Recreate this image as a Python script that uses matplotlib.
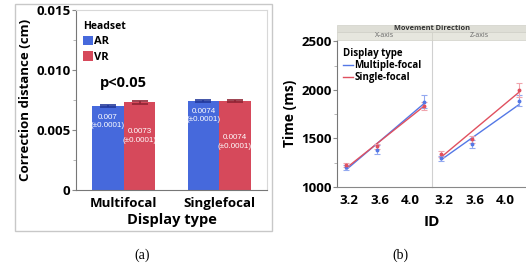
import matplotlib.pyplot as plt
from matplotlib.patches import Rectangle
from matplotlib.lines import Line2D
from matplotlib.ticker import MultipleLocator

plt.rcParams['font.family'] = ['Open Sans', 'DejaVu Sans']

# (a) bar chart data
display_types = ['Multifocal', 'Singlefocal']
ar_means = [0.0070, 0.0074]
vr_means = [0.0073, 0.0074]
ar_err = [0.0001, 0.0001]
vr_err = [0.0001, 0.0001]
ar_labels = ['0.007\n(±0.0001)', '0.0074\n(±0.0001)']
vr_labels = ['0.0073\n(±0.0001)', '0.0074\n(±0.0001)']

# (b) time vs ID, two panels
ids = [3.16, 3.56, 4.17]
x_multi = [1205, 1384, 1880]
x_multi_err = [25, 45, 65]
x_single = [1226, 1418, 1836]
x_single_err = [25, 30, 45]
z_multi = [1298, 1442, 1890]
z_multi_err = [25, 45, 60]
z_single = [1342, 1493, 2000]
z_single_err = [30, 35, 68]
# regression line end values
fit_ids = [3.16, 4.17]
x_multi_fit = [1178, 1856]
x_single_fit = [1195, 1829]
z_multi_fit = [1281, 1846]
z_single_fit = [1308, 1973]

W, H = 526, 268
fig = plt.figure(figsize=(W / 100, H / 100), dpi=100)

def fx(px):
    return px / W

def fy(py):
    return 1 - py / H

blue = '#4669DC'
red = '#D6495B'

# outer frame of panel (a)
fig.patches.append(Rectangle((fx(15), fy(231)), fx(272 - 15), (231 - 4) / H,
                             transform=fig.transFigure, fill=False,
                             edgecolor='#C8C8C8', lw=1))

ax = fig.add_axes([fx(76), fy(190), fx(267 - 76), (190 - 10) / H])
pos = range(len(display_types))
w = 0.33
ax.bar([p - w / 2 for p in pos], ar_means, w, color=blue, label='AR')
ax.bar([p + w / 2 for p in pos], vr_means, w, color=red, label='VR')
ax.errorbar([p - w / 2 for p in pos], ar_means, yerr=ar_err, fmt='none',
            ecolor='#23389A', capsize=5.5, elinewidth=1.2, capthick=1.2)
ax.errorbar([p + w / 2 for p in pos], vr_means, yerr=vr_err, fmt='none',
            ecolor='#8E2434', capsize=5.5, elinewidth=1.2, capthick=1.2)

ar_text_y = [0.0057, 0.0062]
vr_text_y = [0.0045, 0.0040]
for i, p in enumerate(pos):
    ax.text(p - w / 2, ar_text_y[i], ar_labels[i], ha='center', va='center',
            color='white', fontsize=5.8, family=['Liberation Sans'], linespacing=1.3)
    ax.text(p + w / 2, vr_text_y[i], vr_labels[i], ha='center', va='center',
            color='white', fontsize=5.8, family=['Liberation Sans'], linespacing=1.3)
ax.text(0, 0.0089, 'p<0.05', ha='center', va='center', fontsize=10.5, fontweight='bold')

ax.set_xlim(-0.5, 1.5)
ax.set_ylim(0, 0.015)
ax.set_xticks(list(pos))
ax.set_xticklabels(display_types, fontsize=9.5, fontweight='bold')
ax.set_yticks([0, 0.005, 0.010, 0.015])
ax.set_yticklabels(['0', '0.005', '0.010', '0.015'], fontsize=9.5, fontweight='bold')
ax.yaxis.set_minor_locator(MultipleLocator(0.0025))
ax.tick_params(axis='x', length=0, pad=5)
ax.tick_params(axis='y', which='major', length=3, color='#888888', pad=1)
ax.tick_params(axis='y', which='minor', length=2, color='#AAAAAA')
ax.set_xlabel('Display type', fontsize=10.5, fontweight='bold', labelpad=2)
ax.set_ylabel('Correction distance (cm)', fontsize=9.5, fontweight='bold', labelpad=3)
for s in ['top', 'right']:
    ax.spines[s].set_color('#D8D8D8')
for s in ['left', 'bottom']:
    ax.spines[s].set_color('#777777')

leg = ax.legend(loc='upper left', bbox_to_anchor=(0.0, 0.975), title='Headset',
                frameon=False, handlelength=0.9, handleheight=0.9, handletextpad=0.1,
                labelspacing=0.35, borderaxespad=0.2,
                prop={'size': 8, 'weight': 'bold'})
leg.get_title().set_fontweight('bold')
leg.get_title().set_fontsize(7.5)
leg._legend_box.align = 'left'

# (b) two panels
line_blue = '#5478E6'
line_red = '#E0505F'
err_blue = '#93A9F0'
err_red = '#F0A4AD'

panels = [
    (337, 'X-axis', x_multi, x_multi_err, x_single, x_single_err, x_multi_fit, x_single_fit),
    (432, 'Z-axis', z_multi, z_multi_err, z_single, z_single_err, z_multi_fit, z_single_fit),
]
axes_b = []
for left, name, m, me, s, se, mf, sf in panels:
    a = fig.add_axes([fx(left), fy(187), fx(95), (187 - 40) / H])
    a.errorbar(ids, m, yerr=me, fmt='o', ms=1.8, color=line_blue, ecolor=err_blue,
               capsize=2.5, elinewidth=0.8, capthick=0.8, zorder=3)
    a.errorbar(ids, s, yerr=se, fmt='o', ms=1.8, color=line_red, ecolor=err_red,
               capsize=2.5, elinewidth=0.8, capthick=0.8, zorder=3)
    a.plot(fit_ids, mf, color=line_blue, lw=1.0, label='Multiple-focal')
    a.plot(fit_ids, sf, color=line_red, lw=1.0, label='Single-focal')
    a.set_xlim(3.04, 4.28)
    a.set_ylim(1000, 2515)
    a.set_xticks([3.2, 3.6, 4.0])
    a.set_xticklabels(['3.2', '3.6', '4.0'], fontsize=9.5, fontweight='bold')
    a.tick_params(axis='x', length=0, pad=5)
    for sp in ['top', 'right']:
        a.spines[sp].set_visible(False)
    a.spines['bottom'].set_color('#888888')
    a.spines['left'].set_color('#AAAAAA')
    axes_b.append(a)

    # header cell for the panel
    fig.patches.append(Rectangle((fx(left), fy(40)), fx(95), 8 / H,
                                 transform=fig.transFigure, facecolor='#E6E6DE',
                                 edgecolor='#D0D0C8', lw=0.5))
    fig.text(fx(left + 47.5), fy(36), name, ha='center', va='center',
             fontsize=5, color='#666666')

fig.patches.append(Rectangle((fx(337), fy(32)), fx(190), 7 / H,
                             transform=fig.transFigure, facecolor='#DEDED6',
                             edgecolor='#D0D0C8', lw=0.5))
fig.text(fx(432), fy(28.5), 'Movement Direction', ha='center', va='center',
         fontsize=5.3, fontweight='bold', color='#333333')

a1, a2 = axes_b
a1.set_yticks([1000, 1500, 2000, 2500])
a1.set_yticklabels(['1000', '1500', '2000', '2500'], fontsize=9.5, fontweight='bold')
a1.yaxis.set_minor_locator(MultipleLocator(250))
a1.tick_params(axis='y', which='major', length=3, color='#888888', pad=1)
a1.tick_params(axis='y', which='minor', length=2, color='#AAAAAA')
a1.spines['left'].set_color('#777777')
a1.set_ylabel('Time (ms)', fontsize=10, fontweight='bold', labelpad=3)
a2.set_yticks([])
a2.spines['left'].set_color('#D0D0D0')
fig.text(fx(432), fy(222), 'ID', ha='center', va='center', fontsize=11, fontweight='bold')

handles = [Line2D([], [], color=line_blue, lw=1), Line2D([], [], color=line_red, lw=1)]
lg = a1.legend(handles, ['Multiple-focal', 'Single-focal'], title='Display type',
               loc='upper left', bbox_to_anchor=(0.0, 0.985), frameon=False,
               handlelength=1.0, handletextpad=0.2, labelspacing=0.1, borderaxespad=0.2,
               prop={'size': 7, 'weight': 'bold'})
lg.get_title().set_fontsize(7)
lg.get_title().set_fontweight('bold')
lg._legend_box.align = 'left'

# captions
fig.text(fx(142), fy(255), '(a)', ha='center', va='center', fontsize=10,
         family=['Liberation Serif'])
fig.text(fx(400), fy(255), '(b)', ha='center', va='center', fontsize=10,
         family=['Liberation Serif'])

fig.savefig('out.png', dpi=100)
